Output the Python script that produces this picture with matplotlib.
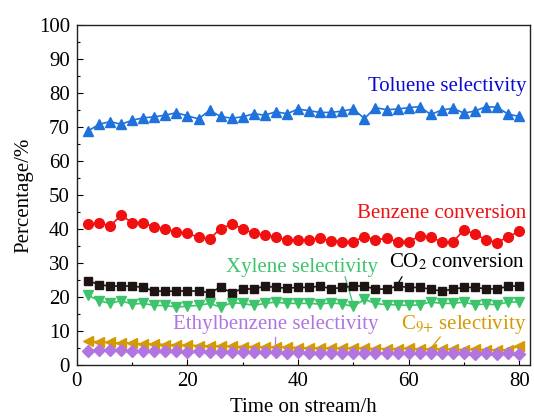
import numpy as np
import matplotlib
matplotlib.use("Agg")
import matplotlib.pyplot as plt
from matplotlib.ticker import MultipleLocator

plt.rcParams['font.family'] = ['Liberation Serif', 'DejaVu Serif']
plt.rcParams['mathtext.fontset'] = 'stix'

time_h = np.arange(2, 81, 2)

toluene_sel = [68.8, 70.8, 71.6, 70.8, 72.0, 72.7, 73.0, 73.5, 74.2, 73.3,
               72.4, 74.9, 73.1, 72.6, 73.0, 73.9, 73.5, 74.5, 73.9, 75.3,
               74.8, 74.3, 74.3, 74.7, 75.3, 72.5, 75.7, 75.1, 75.3, 75.7,
               76.0, 73.7, 75.0, 75.5, 74.1, 74.7, 76.0, 75.8, 73.8, 73.1]
benzene_conv = [41.4, 41.8, 40.9, 44.0, 41.9, 41.9, 40.5, 40.0, 39.1, 38.7,
                37.6, 37.1, 40.1, 41.4, 40.1, 38.7, 38.2, 37.6, 36.7, 36.8,
                36.8, 37.2, 36.5, 36.3, 36.3, 37.7, 36.8, 37.2, 36.3, 36.3,
                37.9, 37.6, 36.2, 36.2, 39.7, 38.5, 36.8, 36.0, 37.7, 39.3]
co2_conv = [24.8, 23.6, 23.2, 23.2, 23.2, 22.8, 21.7, 21.7, 21.7, 21.8,
            21.7, 21.3, 22.8, 21.3, 22.4, 22.3, 23.2, 22.8, 22.6, 22.8,
            22.8, 23.2, 22.4, 22.8, 23.2, 23.2, 22.3, 22.3, 23.2, 22.8,
            22.8, 22.3, 21.7, 22.3, 22.8, 22.8, 22.4, 22.3, 23.2, 23.2]
xylene_sel = [20.5, 18.9, 18.1, 18.9, 17.9, 18.1, 17.5, 17.5, 17.0, 17.3,
              17.5, 18.1, 17.0, 18.3, 18.1, 17.5, 18.1, 18.5, 18.1, 18.1,
              18.1, 17.9, 18.3, 17.9, 17.2, 19.3, 18.1, 17.7, 17.7, 17.5,
              17.7, 18.5, 18.1, 18.1, 18.5, 17.7, 17.9, 17.7, 18.5, 18.5]
c9_sel = [7.0, 6.8, 6.6, 6.4, 6.5, 6.1, 6.2, 6.0, 5.8, 5.8,
          5.7, 5.6, 5.6, 5.5, 5.4, 5.4, 5.3, 5.2, 5.3, 5.1,
          5.0, 5.0, 5.0, 4.9, 5.0, 4.9, 4.8, 4.8, 4.8, 4.9,
          4.7, 4.6, 4.7, 4.6, 4.5, 4.6, 4.5, 4.4, 4.5, 5.5]
ethylbenzene_sel = [4.2, 4.3, 4.4, 4.3, 4.1, 4.2, 4.0, 4.1, 4.0, 3.9,
                    4.0, 3.9, 3.8, 3.9, 3.8, 3.7, 3.8, 3.7, 3.6, 3.7,
                    3.6, 3.5, 3.6, 3.5, 3.5, 3.6, 3.5, 3.4, 3.5, 3.4,
                    3.5, 3.4, 3.4, 3.5, 3.4, 3.3, 3.4, 3.3, 3.4, 3.3]

c_blue = '#1f72dc'
c_red = '#f01010'
c_black = '#1e1414'
c_green = '#3cc46c'
c_purple = '#b274e0'
c_gold = '#d49a00'

fig = plt.figure(figsize=(5.34, 4.18), dpi=100)
ax = fig.add_axes([0.144, 0.127, 0.849, 0.813])

ax.plot(time_h, toluene_sel, '-^', color=c_blue, ms=7.5, lw=1.2, zorder=3)
ax.plot(time_h, benzene_conv, '-o', color=c_red, ms=7, lw=1.2, zorder=3)
ax.plot(time_h, co2_conv, '-s', color=c_black, ms=6, lw=1.2, zorder=3)
ax.plot(time_h, xylene_sel, '-v', color=c_green, ms=7.5, lw=1.2, zorder=3)
ax.plot(time_h, c9_sel, '-<', color=c_gold, ms=7.5, lw=1.2, zorder=3)
ax.plot(time_h, ethylbenzene_sel, '-D', color=c_purple, ms=6, lw=1.2, zorder=3)

fs = 15
ax.text(67, 81.8, 'Toluene selectivity', color='#0a0ad2', fontsize=fs, ha='center', va='center')
ax.text(65.9, 44.7, 'Benzene conversion', color=c_red, fontsize=fs, ha='center', va='center')
ax.text(40.7, 28.8, 'Xylene selectivity', color=c_green, fontsize=fs, ha='center', va='center')
ax.text(68.8, 30.3, r'CO$_2$ conversion', color='black', fontsize=fs, ha='center', va='center')
ax.text(36, 11.8, 'Ethylbenzene selectivity', color=c_purple, fontsize=fs, ha='center', va='center')
ax.text(69.9, 11.8, r'C$_{9{+}}$ selectivity', color=c_gold, fontsize=fs, ha='center', va='center')

# leader lines from labels to their series
ax.plot([48.5, 49.9], [25.9, 18.2], color=c_green, lw=0.9)
ax.plot([58.0, 58.8], [23.8, 25.9], color='black', lw=0.9)
ax.plot([35.8, 35.8], [8.2, 4.4], color=c_purple, lw=0.9)
ax.plot([65.7, 63.5], [8.2, 3.9], color=c_gold, lw=0.9)

ax.set_xlim(0, 82)
ax.set_ylim(0, 100)
ax.xaxis.set_major_locator(MultipleLocator(20))
ax.xaxis.set_minor_locator(MultipleLocator(10))
ax.yaxis.set_major_locator(MultipleLocator(10))
ax.yaxis.set_minor_locator(MultipleLocator(5))
ax.tick_params(which='both', direction='in', top=False, right=False, labelsize=fs)
ax.tick_params(which='major', length=4, width=0.8, pad=5)
ax.tick_params(which='minor', length=2.5, width=0.8)
for s in ax.spines.values():
    s.set_linewidth(1.0)
    s.set_color('#222222')

ax.set_xlabel('Time on stream/h', fontsize=fs, labelpad=5)
ax.set_ylabel('Percentage/%', fontsize=fs, labelpad=4)

fig.savefig('out.png', dpi=100)
